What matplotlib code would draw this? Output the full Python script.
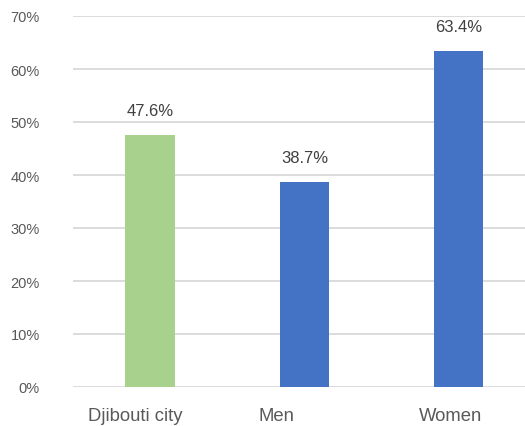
import matplotlib
matplotlib.use("Agg")
import matplotlib.pyplot as plt
import matplotlib.transforms as mtransforms
from matplotlib.ticker import FuncFormatter

plt.rcParams["font.family"] = ["Liberation Sans", "DejaVu Sans"]

categories = ["Djibouti city", "Men", "Women"]
values = [47.6, 38.7, 63.4]
colors = ["#A9D18E", "#4472C4", "#4472C4"]
yticks = [0, 10, 20, 30, 40, 50, 60, 70]
label_shift_px = [-15, -28, -8]  # horizontal shift of category labels (layout)

fig = plt.figure(figsize=(5.25, 4.27), dpi=100)
ax = fig.add_axes([73/525, 39/427, 1 - 73/525, (388-17)/427])
x = list(range(len(categories)))
ax.bar(x, values, width=0.32, color=colors, zorder=3)
for xi, v in zip(x, values):
    ax.annotate(f"{v}%", (xi, v), xytext=(0, 12), textcoords="offset points",
                ha="center", va="bottom", fontsize=12, color="#404040")
ax.set_xlim(-0.5, 2.43)
ax.set_ylim(0, 70)
ax.set_yticks(yticks)
ax.yaxis.set_major_formatter(FuncFormatter(lambda v, p: f"{int(v)}%"))
ax.set_xticks(x)
ax.set_xticklabels(categories)
ax.grid(axis="y", color="#D9D9D9", linewidth=1.3, zorder=0)
for s in ax.spines.values():
    s.set_visible(False)
ax.tick_params(axis="y", length=0, pad=24, labelsize=10.5, labelcolor="#595959")
ax.tick_params(axis="x", length=0, pad=14.5, labelsize=13.3, labelcolor="#595959")
for lbl, dx in zip(ax.get_xticklabels(), label_shift_px):
    lbl.set_transform(lbl.get_transform() +
                      mtransforms.ScaledTranslation(dx / 100, 0, fig.dpi_scale_trans))
fig.savefig("out.png", dpi=100)
